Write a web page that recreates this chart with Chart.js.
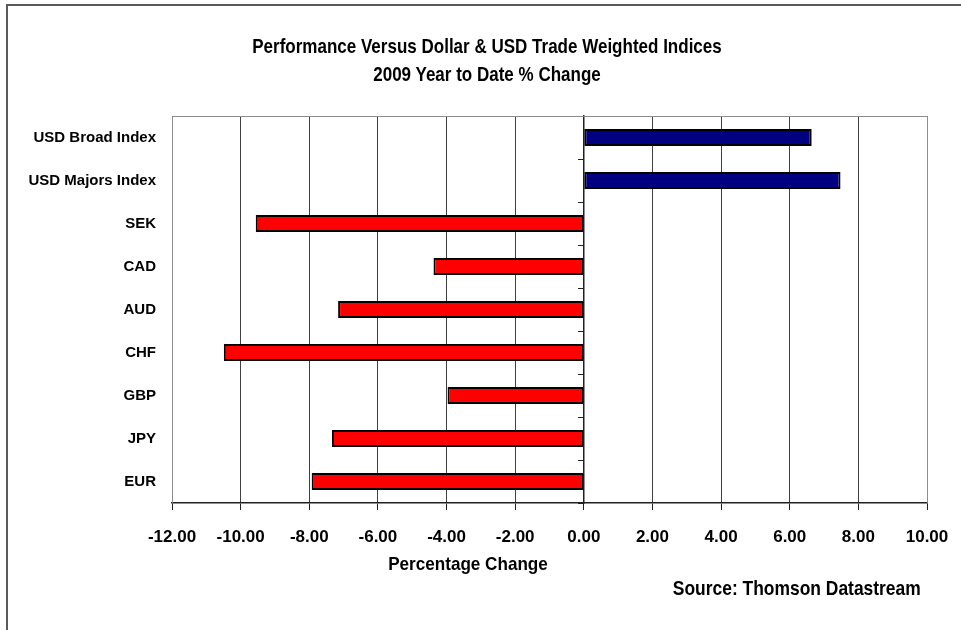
<!DOCTYPE html>
<html>
<head>
<meta charset="utf-8">
<script src="https://cdn.jsdelivr.net/npm/chart.js@4.4.1/dist/chart.umd.min.js"></script>
<style>
    body { margin: 0; background: #fff; }
    #wrap { position: relative; width: 961px; height: 630px; overflow: hidden; font-family: 'Liberation Sans', Arial, sans-serif; font-weight: bold; color: #000; }
    #frame { position: absolute; left: 6px; top: 4px; width: 1000px; height: 700px; border: 2px solid #5a5a5a; box-sizing: border-box; }
    .txt { position: absolute; white-space: nowrap; font-size: 21px; line-height: 1; }
    canvas { position: absolute; left: 0; top: 0; }
</style>
</head>
<body>
<div id="wrap">
    <div id="frame"></div>
    <canvas id="perfChart" width="961" height="630"></canvas>
    <div class="txt" id="title1" style="left:487px; top:35px; transform:translateX(-50%) scaleX(0.81);">Performance Versus Dollar &amp; USD Trade Weighted Indices</div>
    <div class="txt" id="title2" style="left:487px; top:63px; transform:translateX(-50%) scaleX(0.81);">2009 Year to Date % Change</div>
    <div class="txt" id="xTitle" style="left:468px; top:554px; font-size:19px; transform:translateX(-50%) scaleX(0.9);">Percentage Change</div>
    <div class="txt" id="source" style="right:40px; top:577px; transform-origin:right center; transform:scaleX(0.83);">Source: Thomson Datastream</div>
</div>
<script>
// Data
const categories = ['USD Broad Index', 'USD Majors Index', 'SEK', 'CAD', 'AUD', 'CHF', 'GBP', 'JPY', 'EUR'];
const pctChange = [6.64, 7.48, -9.56, -4.38, -7.16, -10.49, -3.97, -7.34, -7.93];
const xMin = -12;
const xMax = 10;
const xStep = 2;

const FONT = "'Liberation Sans', Arial, sans-serif";

// Gray box round the plot area
const plotBorder = {
    id: 'plotBorder',
    beforeDatasetsDraw(chart) {
        const {ctx, chartArea: a} = chart;
        ctx.save();
        ctx.strokeStyle = '#8c8c8c';
        ctx.lineWidth = 1;
        ctx.beginPath();
        ctx.moveTo(a.left + 0.5, a.bottom);
        ctx.lineTo(a.left + 0.5, a.top + 0.5);
        ctx.lineTo(a.right + 0.5, a.top + 0.5);
        ctx.lineTo(a.right + 0.5, a.bottom);
        ctx.stroke();
        ctx.restore();
    }
};

const perfChart = new Chart(document.getElementById('perfChart'), {
    type: 'bar',
    data: {
        labels: categories,
        datasets: [{
            data: pctChange,
            backgroundColor: pctChange.map(v => v >= 0 ? '#000080' : '#ff0000'),
            borderColor: '#000000',
            borderWidth: 2,
            borderSkipped: false,
            barPercentage: 0.8,
            categoryPercentage: 0.5
        }]
    },
    options: {
        indexAxis: 'y',
        responsive: false,
        animation: false,
        layout: {
            padding: { left: 0, top: 116, right: 34, bottom: 67 }
        },
        plugins: {
            legend: { display: false },
            tooltip: { enabled: false }
        },
        scales: {
            x: {
                min: xMin,
                max: xMax,
                afterFit(scale) {
                    scale.height = 60;
                    // end labels fit inside the layout padding
                    scale.paddingLeft = 0;
                    scale.paddingRight = 0;
                },
                grid: {
                    color: ctx => (ctx.tick && (ctx.tick.value === xMin || ctx.tick.value === xMax)) ? '#8c8c8c' : '#404040',
                    lineWidth: 1,
                    drawTicks: true,
                    tickLength: 7,
                    tickColor: '#202020'
                },
                border: { display: true, color: '#202020', width: 1.5 },
                ticks: {
                    stepSize: xStep,
                    autoSkip: false,
                    color: '#000',
                    padding: 17,
                    maxRotation: 0,
                    font: { family: FONT, size: 17, weight: 'bold' },
                    callback: value => value.toFixed(2)
                }
            },
            y: {
                offset: true,
                afterFit(scale) { scale.width = 172; },
                grid: { display: false, drawTicks: false },
                border: { display: false },
                ticks: {
                    color: '#000',
                    padding: 16,
                    font: { family: FONT, size: 15, weight: 'bold' }
                }
            },
            y0: {
                type: 'category',
                position: { x: 0 },
                offset: true,
                grid: {
                    offset: true,
                    drawOnChartArea: false,
                    drawTicks: true,
                    tickLength: 5,
                    tickColor: '#202020'
                },
                border: { display: true, color: '#202020', width: 1.5 },
                ticks: { display: false }
            }
        }
    },
    plugins: [plotBorder]
});
</script>
</body>
</html>
